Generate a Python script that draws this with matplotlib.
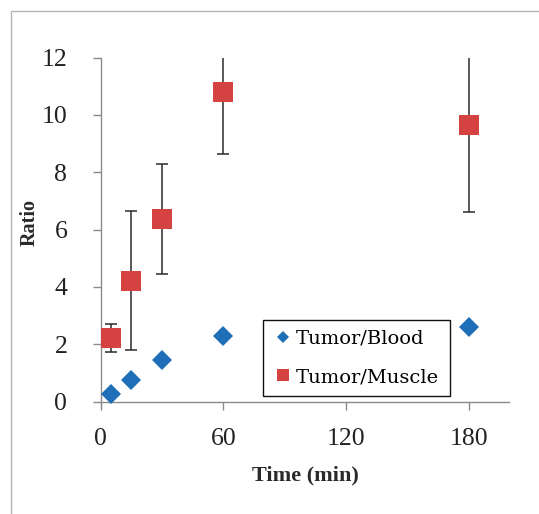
import numpy as np
import matplotlib
matplotlib.use("Agg")
import matplotlib.pyplot as plt
from matplotlib.lines import Line2D
from matplotlib.patches import Rectangle

# data
time_min = [5, 15, 30, 60, 180]
tumor_blood = [0.27, 0.76, 1.45, 2.29, 2.62]
tumor_muscle = [2.23, 4.22, 6.37, 10.80, 9.65]
tumor_muscle_err = [0.49, 2.42, 1.93, 2.15, 3.02]

x_ticks = [0, 60, 120, 180]
y_ticks = [0, 2, 4, 6, 8, 10, 12]

blue = '#1f6fb8'
red = '#d44242'
axis_gray = '#8a8a8a'

fig = plt.figure(figsize=(5.39, 5.14), dpi=100)

# light outer frame of the chart area
frame = Rectangle((11/539, -0.2), 1.5, 0.2 + (514-11)/514, transform=fig.transFigure,
                  fill=False, edgecolor='#b5b5b5', linewidth=1.0)
fig.add_artist(frame)

ax = fig.add_axes([0.1868, 0.2185, 0.7583, 0.6696])

# error bars (clipped at top of axis), then markers
ax.errorbar(time_min, tumor_muscle, yerr=tumor_muscle_err, fmt='none',
            ecolor='#2b2b2b', elinewidth=1.1, capsize=4, capthick=1.1, zorder=2)
ax.plot(time_min, tumor_muscle, linestyle='none', marker='s', markersize=15,
        color=red, markeredgewidth=0, zorder=3)
ax.plot(time_min, tumor_blood, linestyle='none', marker='D', markersize=10,
        color=blue, markeredgewidth=0, zorder=3, clip_on=False)

ax.set_xlim(0, 200)
ax.set_ylim(0, 12)
ax.set_xticks(x_ticks)
ax.set_yticks(y_ticks)

for s in ['top', 'right']:
    ax.spines[s].set_visible(False)
for s in ['left', 'bottom']:
    ax.spines[s].set_color(axis_gray)
    ax.spines[s].set_linewidth(1.0)

ax.tick_params(axis='both', direction='out', length=6, width=1.0, color=axis_gray,
               labelsize=18.5, labelcolor='#222222')
ax.tick_params(axis='y', pad=18)
ax.tick_params(axis='x', pad=13)
for lab in ax.get_xticklabels() + ax.get_yticklabels():
    lab.set_family('Liberation Serif')

ax.set_xlabel('Time (min)', family='Liberation Serif', fontweight='bold', fontsize=16,
              color='#2a2a2a')
ax.set_ylabel('Ratio', family='Liberation Serif', fontweight='bold', fontsize=14.5,
              color='#2a2a2a')
ax.xaxis.set_label_coords(0.5, -0.184)
ax.yaxis.set_label_coords(-0.150, 0.52)

handles = [Line2D([], [], linestyle='none', marker='D', markersize=6, color=blue,
                  markeredgewidth=0),
           Line2D([], [], linestyle='none', marker='s', markersize=9, color=red,
                  markeredgewidth=0)]
leg = ax.legend(handles, ['Tumor/Blood', 'Tumor/Muscle'],
                loc='lower left', bbox_to_anchor=(263/539, (514-396)/514, 187/539, 77/514),
                bbox_transform=fig.transFigure, mode='expand', borderaxespad=0,
                prop={'family': 'DejaVu Serif', 'size': 14},
                handlelength=1.05, handletextpad=0.12, borderpad=0.5, labelspacing=1.05,
                fancybox=False, framealpha=1, edgecolor='#111111')
leg.get_frame().set_linewidth(1.0)

fig.savefig('out.png', dpi=100)
